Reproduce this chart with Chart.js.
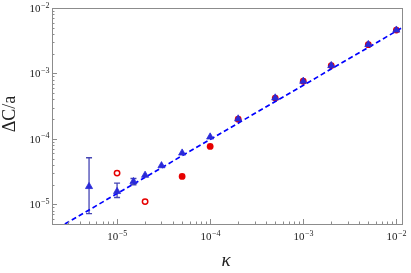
<!DOCTYPE html>
<html>
<head>
<meta charset="utf-8">
<script src="https://cdn.jsdelivr.net/npm/chart.js@4.4.1/dist/chart.umd.min.js"></script>
<style>
  html, body { margin: 0; padding: 0; background: #fff; }
</style>
</head>
<body>
<canvas id="chart" width="411" height="273"></canvas>
<script>
// blue triangles (with error bars on the small-kappa points)
const kappa   = [5e-6, 1e-5, 1.5e-5, 2e-5, 3e-5, 5e-5, 1e-4, 2e-4, 5e-4, 1e-3, 2e-3, 5e-3, 1e-2];
const dcBlue  = [1.87e-5, 1.57e-5, 2.23e-5, 2.78e-5, 3.89e-5, 6.08e-5, 1.07e-4, 2.02e-4, 4.23e-4, 7.6e-4, 1.32e-3, 2.77e-3, 4.6e-3];
const errLow  = [7.2e-6, 1.27e-5, 1.99e-5, null, null, null, null, null, null, null, null, null, null];
const errHigh = [5.15e-5, 2.11e-5, 2.48e-5, null, null, null, null, null, null, null, null, null, null];

// red filled circles
const kappaRed = [5e-5, 1e-4, 2e-4, 5e-4, 1e-3, 2e-3, 5e-3, 1e-2];
const dcRed    = [2.67e-5, 7.67e-5, 2.0e-4, 4.2e-4, 7.6e-4, 1.32e-3, 2.75e-3, 4.6e-3];

// red open circles
const kappaOpen = [1e-5, 2e-5];
const dcOpen    = [3.0e-5, 1.1e-5];

// dashed fit line, end points
const fitK  = [2.75e-6, 1.15e-2];
const fitDC = [5.0e-6, 4.98e-3];

// axis ranges and labelled decades
const xRange = [2e-6, 1.15e-2];
const yRange = [5e-6, 1e-2];
const xDecades = [-5, -4, -3, -2];
const yDecades = [-5, -4, -3, -2];

const pts = (xs, ys) => xs.map((x, i) => ({ x, y: ys[i] }));

const FRAME = '#8c8c8c';
const SERIF = '"Liberation Serif", "DejaVu Serif", serif';

function drawPow(ctx, x, y, exp, align) {
  const base = '10', sup = '\u2212' + Math.abs(exp);
  ctx.font = '11px ' + SERIF;
  const wb = ctx.measureText(base).width;
  ctx.font = '8px ' + SERIF;
  const ws = ctx.measureText(sup).width;
  let x0 = align === 'right' ? x - wb - ws : x - (wb + ws) / 2;
  ctx.textAlign = 'left';
  ctx.textBaseline = 'alphabetic';
  ctx.font = '11px ' + SERIF;
  ctx.fillText(base, x0, y);
  ctx.font = '8px ' + SERIF;
  ctx.fillText(sup, x0 + wb + 0.5, y - 4.5);
}

const axesPlugin = {
  id: 'axesPlugin',
  beforeDatasetsDraw(chart) {
    // error bars
    const { ctx, scales: { x, y } } = chart;
    ctx.save();
    ctx.strokeStyle = '#4646b4';
    ctx.lineWidth = 1.3;
    kappa.forEach((k, i) => {
      if (errLow[i] == null) return;
      const px = x.getPixelForValue(k);
      const y1 = y.getPixelForValue(errLow[i]);
      const y2 = y.getPixelForValue(errHigh[i]);
      ctx.beginPath();
      ctx.moveTo(px, y1); ctx.lineTo(px, y2);
      ctx.moveTo(px - 3, y1); ctx.lineTo(px + 3, y1);
      ctx.moveTo(px - 3, y2); ctx.lineTo(px + 3, y2);
      ctx.stroke();
    });
    ctx.restore();
  },
  afterDraw(chart) {
    const { ctx, chartArea: a, scales: { x, y } } = chart;
    ctx.save();
    ctx.strokeStyle = FRAME;
    ctx.lineWidth = 1;
    ctx.strokeRect(Math.round(a.left) + 0.5, Math.round(a.top) + 0.5,
                   Math.round(a.right - a.left), Math.round(a.bottom - a.top));

    // minor and major ticks, pointing inward
    ctx.beginPath();
    for (let e = -7; e <= -1; e++) {
      for (let m = 1; m <= 9; m++) {
        const v = m * Math.pow(10, e);
        const len = m === 1 ? 5 : 2.5;
        if (v >= x.min && v <= x.max) {
          const px = Math.round(x.getPixelForValue(v)) + 0.5;
          ctx.moveTo(px, a.bottom); ctx.lineTo(px, a.bottom - len);
        }
        if (v >= y.min && v <= y.max) {
          const py = Math.round(y.getPixelForValue(v)) + 0.5;
          ctx.moveTo(a.left, py); ctx.lineTo(a.left + len, py);
        }
      }
    }
    ctx.stroke();

    ctx.fillStyle = '#222';
    xDecades.forEach(e => drawPow(ctx, x.getPixelForValue(Math.pow(10, e)), 240, e, 'center'));
    yDecades.forEach(e => drawPow(ctx, a.left - 3, y.getPixelForValue(Math.pow(10, e)) + 4, e, 'right'));

    // axis titles
    ctx.font = '18px ' + SERIF;
    ctx.textAlign = 'center';
    ctx.textBaseline = 'alphabetic';
    ctx.save();
    ctx.translate(15, 114);
    ctx.rotate(-Math.PI / 2);
    ctx.fillText('\u0394C/a', 0, 0);
    ctx.restore();
    ctx.font = 'italic 19px ' + SERIF;
    ctx.fillText('\u03ba', 226, 266);
    ctx.restore();
  }
};

new Chart(document.getElementById('chart'), {
  type: 'scatter',
  data: {
    datasets: [
      {
        label: 'blue',
        data: pts(kappa, dcBlue),
        pointStyle: 'triangle',
        pointRadius: 4.1,
        backgroundColor: '#2a2ad8',
        borderColor: '#2a2ad8',
        borderWidth: 0.8,
        order: 1
      },
      {
        label: 'fit',
        type: 'line',
        data: pts(fitK, fitDC),
        borderColor: '#0000ff',
        borderWidth: 1.7,
        borderDash: [5, 3],
        pointRadius: 0,
        fill: false,
        order: 2
      },
      {
        label: 'red',
        data: pts(kappaRed, dcRed),
        pointStyle: 'circle',
        pointRadius: 3.4,
        backgroundColor: '#e60000',
        borderColor: '#e60000',
        borderWidth: 0,
        order: 3
      },
      {
        label: 'open',
        data: pts(kappaOpen, dcOpen),
        pointStyle: 'circle',
        pointRadius: 2.7,
        backgroundColor: 'rgba(0,0,0,0)',
        borderColor: '#e60000',
        borderWidth: 1.5,
        order: 3
      }
    ]
  },
  options: {
    responsive: false,
    animation: false,
    layout: { padding: { top: 8, right: 9, left: 0, bottom: 0 } },
    plugins: { legend: { display: false }, tooltip: { enabled: false } },
    scales: {
      x: {
        type: 'logarithmic',
        min: xRange[0], max: xRange[1],
        grid: { display: false },
        border: { display: false },
        ticks: { display: false },
        afterFit: s => { s.height = 49; }
      },
      y: {
        type: 'logarithmic',
        min: yRange[0], max: yRange[1],
        grid: { display: false },
        border: { display: false },
        ticks: { display: false },
        afterFit: s => { s.width = 52; }
      }
    }
  },
  plugins: [axesPlugin]
});
</script>
</body>
</html>
